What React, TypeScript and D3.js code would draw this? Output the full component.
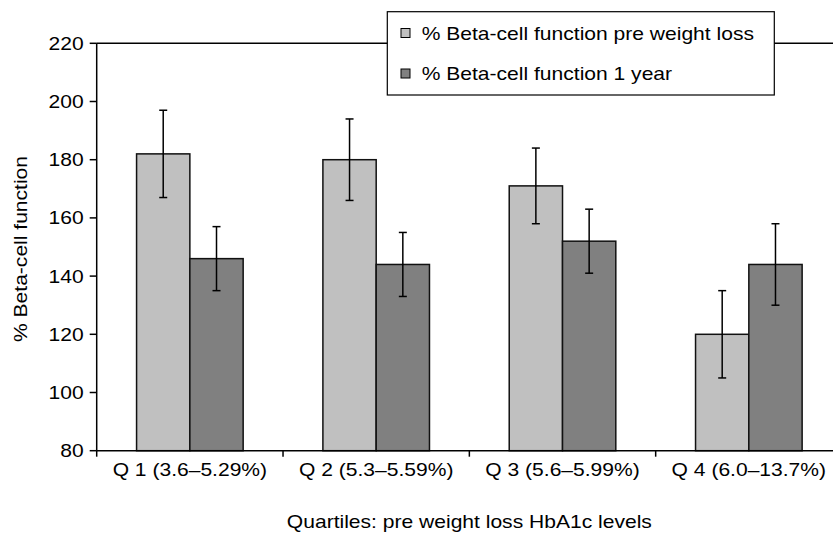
import React from "react";
import * as d3 from "d3";

const categories = ["Q 1 (3.6\u20135.29%)", "Q 2 (5.3\u20135.59%)", "Q 3 (5.6\u20135.99%)", "Q 4 (6.0\u201313.7%)"];
const seriesNames = ["% Beta-cell function pre weight loss", "% Beta-cell function 1 year"];
const preValues = [182, 180, 171, 120];
const preErrors = [15, 14, 13, 15];
const yearValues = [146, 144, 152, 144];
const yearErrors = [11, 11, 11, 14];
const yTicks = [80, 100, 120, 140, 160, 180, 200, 220];
const xTitle = "Quartiles: pre weight loss HbA1c levels";
const yTitle = "% Beta-cell function";

const W = 833, H = 533;
const left = 96.7, right = 842, top = 43.3, bottom = 450.7;
const colors = ["#c0c0c0", "#808080"];
const font = "'Liberation Sans', Arial, Helvetica, sans-serif";
const SX = 1.17;

function T({ x, y, anchor = "start", rotate = 0, children }: { x: number; y: number; anchor?: string; rotate?: number; children: React.ReactNode }) {
  return (
    <text
      transform={`translate(${x},${y}) rotate(${rotate}) scale(${SX},1)`}
      textAnchor={anchor}
      fontSize={18}
      fill="#000"
    >
      {children}
    </text>
  );
}

export default function App() {
  const x = d3.scaleBand<string>().domain(categories).range([left, right]).paddingInner(0.428).paddingOuter(0.214);
  const xs = d3.scaleBand<string>().domain(["0", "1"]).range([0, x.bandwidth()]);
  const y = d3.scaleLinear().domain([80, 220]).range([bottom, top]);
  const step = x.step();
  const series = [
    { vals: preValues, errs: preErrors },
    { vals: yearValues, errs: yearErrors },
  ];
  return (
    <svg width={W} height={H} style={{ position: "absolute", left: 0, top: 0, background: "#fff" }} fontFamily={font}>
      <line x1={left} x2={right} y1={y(220)} y2={y(220)} stroke="#000" strokeWidth={1.5} />
      {series.map((s, si) =>
        categories.map((c, ci) => {
          const bx = (x(c) as number) + (xs(String(si)) as number);
          const bw = xs.bandwidth();
          const v = s.vals[ci];
          const e = s.errs[ci];
          const cx = bx + bw / 2;
          return (
            <g key={`${si}-${ci}`}>
              <rect x={bx} y={y(v)} width={bw} height={y(80) - y(v)} fill={colors[si]} stroke="#111" strokeWidth={1.5} />
              <line x1={cx} x2={cx} y1={y(v + e)} y2={y(v - e)} stroke="#000" strokeWidth={1.5} />
              <line x1={cx - 4} x2={cx + 4} y1={y(v + e)} y2={y(v + e)} stroke="#000" strokeWidth={1.5} />
              <line x1={cx - 4} x2={cx + 4} y1={y(v - e)} y2={y(v - e)} stroke="#000" strokeWidth={1.5} />
            </g>
          );
        })
      )}
      <line x1={left} x2={left} y1={top} y2={bottom} stroke="#000" strokeWidth={1.5} />
      {yTicks.map((t) => (
        <g key={t}>
          <line x1={left - 7} x2={left} y1={y(t)} y2={y(t)} stroke="#000" strokeWidth={1.5} />
          <T x={left - 13} y={y(t) + 6.4} anchor="end">{t}</T>
        </g>
      ))}
      <line x1={left} x2={right} y1={bottom} y2={bottom} stroke="#000" strokeWidth={1.5} />
      {categories.map((c, i) => (
        <g key={c}>
          <line x1={left + i * step} x2={left + i * step} y1={bottom} y2={bottom + 6} stroke="#000" strokeWidth={1.5} />
          <T x={(x(c) as number) + x.bandwidth() / 2} y={476} anchor="middle">{c}</T>
        </g>
      ))}
      <T x={(left + right) / 2} y={528} anchor="middle">{xTitle}</T>
      <T x={27} y={249} anchor="middle" rotate={-90}>{yTitle}</T>
      <rect x={387.3} y={11.7} width={387} height={83.3} fill="#fff" stroke="#000" strokeWidth={1.2} />
      {seriesNames.map((n, i) => (
        <g key={n}>
          <rect x={401} y={28.5 + i * 40.5} width={9} height={9} fill={colors[i]} stroke="#000" strokeWidth={1} />
          <T x={421.7} y={39.5 + i * 40.5}>{n}</T>
        </g>
      ))}
    </svg>
  );
}
